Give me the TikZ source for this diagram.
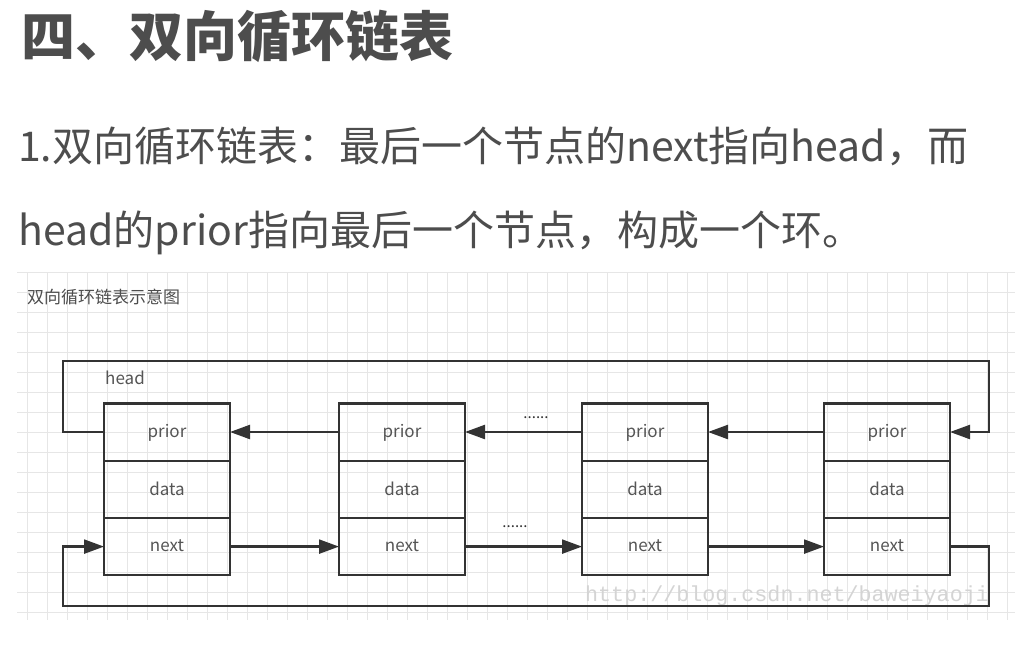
\documentclass[tikz,border=0pt]{standalone}
\usepackage{fontspec}
\setmainfont{Noto Sans CJK SC}
\newfontfamily\markfont{Liberation Mono}
\usetikzlibrary{positioning,arrows.meta}
\definecolor{inkgray}{HTML}{333333}
\definecolor{textgray}{HTML}{4D4D4D}
\definecolor{labelgray}{HTML}{555555}
\definecolor{gridgray}{HTML}{E6E6E6}
\definecolor{markgray}{HTML}{D4D4D4}
\tikzset{
    field/.style={draw=inkgray,line width=2.3pt,minimum width=126pt,minimum height=57.3pt,
        inner sep=0pt,outer sep=0pt,text=labelgray,font=\fontsize{17}{20}\selectfont,text depth=2pt},
    link/.style={draw=inkgray,line width=2.3pt,-{Triangle[length=20pt,width=14pt]}},
    gridline/.style={draw=gridgray,line width=1pt},
    bodytext/.style={anchor=base west,inner sep=0pt,text=textgray,font=\fontsize{41}{48}\selectfont},
}
\newcommand\ListNode[2]{%
    \node[field] (#1prior) at (#2,432) {prior};
    \node[field,below=0pt of #1prior] (#1data) {data};
    \node[field,below=0pt of #1data] (#1next) {next};
}
\newcommand\PaperGrid[4]{%
    \foreach \gx in {27,47,...,1007} \draw[gridline] (\gx,#3) -- (\gx,#4);
    \foreach \gy in {272,292,...,612} \draw[gridline] (#1,\gy) -- (#2,\gy);
}

\begin{document}
\begin{tikzpicture}[x=1pt,y=-1pt]
    \fill[white] (0,0) rectangle (1026,659);
    \useasboundingbox (0,0) rectangle (1026,659);

    \node[bodytext,text=textgray,font=\fontsize{54}{60}\selectfont\bfseries] (title) at (21,56) {四、双向循环链表};
    \node[bodytext] (line1) at (18,161) {1.双向循环链表：最后一个节点的next指向head，而};
    \node[bodytext] (line2) at (18,245) {head的prior指向最后一个节点，构成一个环。};

    \PaperGrid{17}{1015}{272}{620}
    \node[anchor=west,inner sep=0pt,text=textgray,font=\fontsize{17}{20}\selectfont] (caption) at (27,297) {双向循环链表示意图};
    \node[anchor=west,inner sep=0pt,text=labelgray,font=\fontsize{17}{20}\selectfont] (headlabel) at (105,378) {head};

    \ListNode{a}{167}
    \ListNode{b}{402}
    \ListNode{c}{645}
    \ListNode{d}{887}

    \coordinate (topleft) at (63,361);
    \coordinate (topright) at (989,361);
    \coordinate (botleft) at (63,606);
    \coordinate (botright) at (989,606);

    \node[markgray,anchor=west,inner sep=0pt,font=\markfont\fontsize{21.7}{24}\selectfont] (watermark) at (585,596) {http://blog.csdn.net/baweiyaoji};

    \draw[link] (bprior) -- (aprior);
    \draw[link] (cprior) -- (bprior);
    \draw[link] (dprior) -- (cprior);
    \draw[link] (anext) -- (bnext);
    \draw[link] (bnext) -- (cnext);
    \draw[link] (cnext) -- (dnext);
    \draw[link] (aprior.west) -| (topleft) -- (topright) |- (dprior.east);
    \draw[link] (dnext.east) -| (botright) -- (botleft) |- (anext.west);

    \node[text=inkgray,inner sep=0pt,font=\fontsize{15}{16}\selectfont] (dotsprior) at (536,418) {......};
    \node[text=inkgray,inner sep=0pt,font=\fontsize{15}{16}\selectfont] (dotsnext) at (515,527) {......};
\end{tikzpicture}
\end{document}
